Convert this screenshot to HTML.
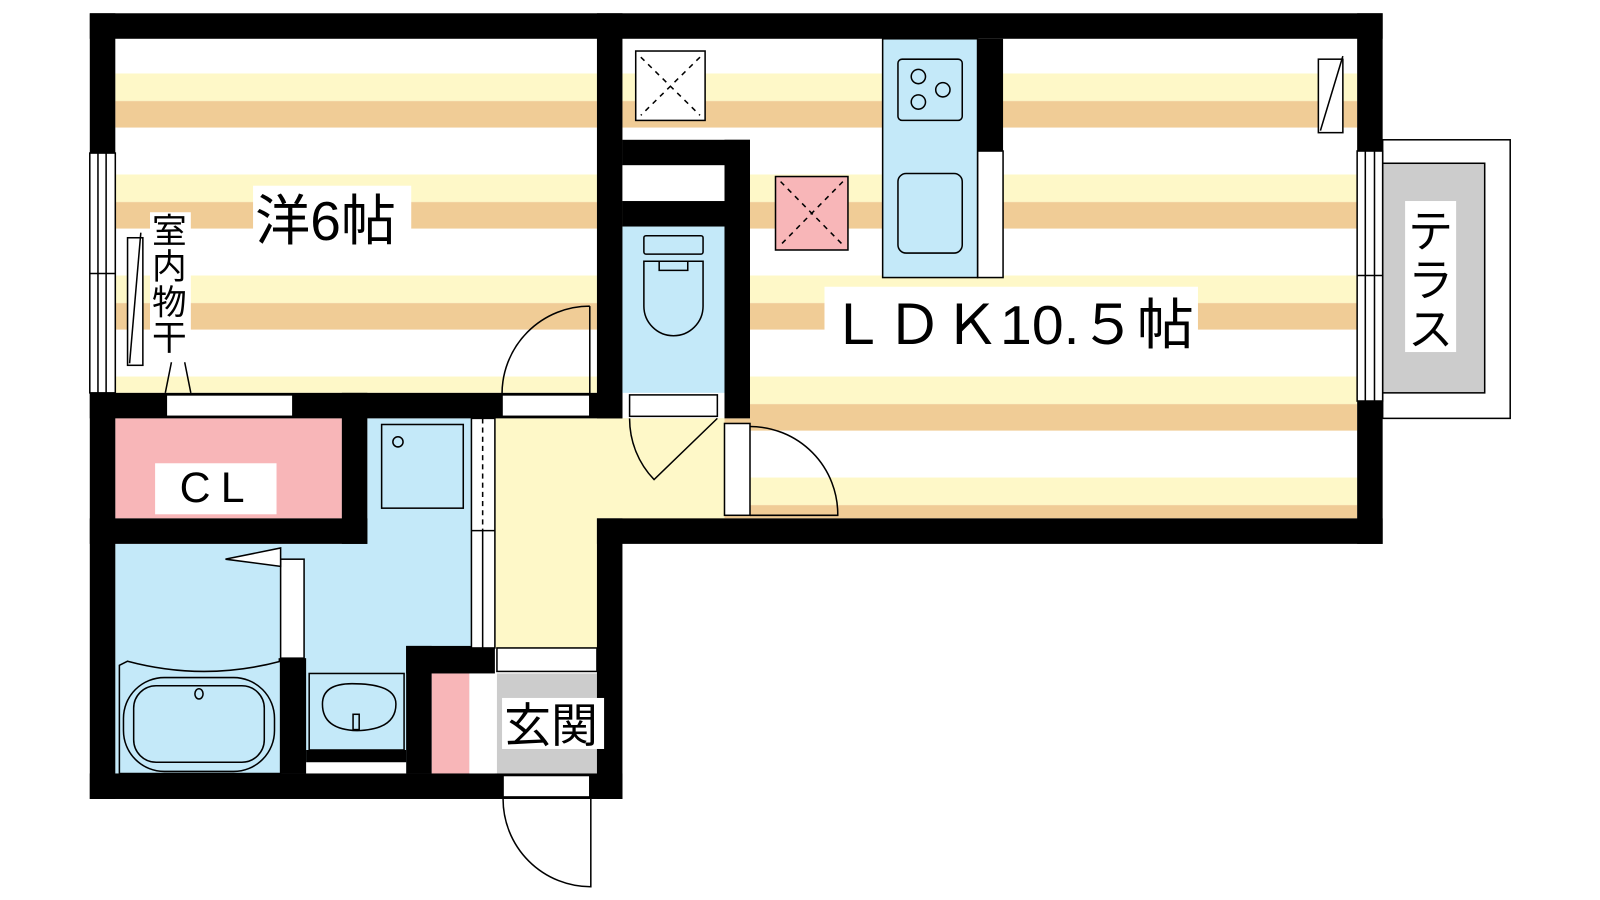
<!DOCTYPE html>
<html><head><meta charset="utf-8"><style>
html,body{margin:0;padding:0;background:#fff;width:1600px;height:900px;overflow:hidden}
svg{display:block}
text{font-family:"Liberation Sans","Noto Sans CJK JP",sans-serif;fill:#000}
</style></head><body>
<svg width="1600" height="900" viewBox="0 0 1568 882" preserveAspectRatio="none" xmlns="http://www.w3.org/2000/svg">
<defs>
<pattern id="fl" patternUnits="userSpaceOnUse" x="0" y="72" width="1600" height="99">
<rect width="1600" height="99" fill="#fff"/>
<rect y="0" width="1600" height="27" fill="#fef8c8"/>
<rect y="27" width="1600" height="26" fill="#f0cc96"/>
</pattern>
</defs>
<rect x="113" y="38" width="472" height="347" fill="url(#fl)"/>
<rect x="610" y="38" width="720" height="470" fill="url(#fl)"/>
<rect x="610" y="137" width="125" height="273" fill="#fff"/>
<rect x="610" y="222" width="100" height="163" fill="#c4e9f9"/>
<rect x="485" y="410" width="225" height="98" fill="#fef8c8"/>
<rect x="485" y="410" width="100" height="225" fill="#fef8c8"/>
<rect x="113" y="410" width="222" height="98" fill="#f8b6b8"/>
<rect x="360" y="410" width="102" height="240" fill="#c4e9f9"/>
<rect x="113" y="533" width="350" height="225" fill="#c4e9f9"/>
<rect x="487" y="660" width="98" height="98" fill="#cccccc"/>
<rect x="423" y="660" width="37" height="98" fill="#f8b6b8"/>
<rect x="1355" y="137" width="125" height="273" fill="#fff" stroke="#000" stroke-width="1.5"/>
<rect x="1355" y="160" width="100" height="225" fill="#cccccc" stroke="#000" stroke-width="1.5"/>
<g fill="#000">
<rect x="88" y="13" width="1267" height="25"/>
<rect x="88" y="13" width="25" height="770"/>
<rect x="1330" y="13" width="25" height="520"/>
<rect x="585" y="508" width="770" height="25"/>
<rect x="88" y="758" width="522" height="25"/>
<rect x="585" y="508" width="25" height="275"/>
<rect x="585" y="13" width="25" height="397"/>
<rect x="88" y="385" width="522" height="25"/>
<rect x="335" y="385" width="25" height="148"/>
<rect x="88" y="508" width="272" height="25"/>
<rect x="610" y="137" width="125" height="25"/>
<rect x="610" y="197" width="125" height="25"/>
<rect x="710" y="137" width="25" height="273"/>
<rect x="958" y="38" width="25" height="110"/>
<rect x="273" y="645" width="27" height="113"/>
<rect x="398" y="633" width="87" height="27"/>
<rect x="398" y="633" width="25" height="125"/>
<rect x="300" y="735" width="98" height="23"/>
</g>
<g fill="#fff" stroke="#000" stroke-width="1.5">
<rect x="163" y="387" width="124" height="21"/>
<rect x="492" y="387" width="86" height="21"/>
<rect x="617" y="387" width="86" height="21"/>
<rect x="610" y="162" width="100" height="35" stroke="none"/>
<rect x="710" y="415" width="25" height="90"/>
<rect x="958" y="148" width="25" height="124"/>
<rect x="487" y="635" width="98" height="23"/>
<rect x="493" y="760" width="85" height="21"/>
<rect x="300" y="747" width="98" height="11" stroke="none"/>
<rect x="460" y="660" width="25" height="98" stroke="none"/>
<rect x="275" y="548" width="23" height="97"/>
<rect x="462" y="410" width="23" height="225"/>
<rect x="88" y="150" width="25" height="235"/>
<rect x="1330" y="148" width="25" height="245"/>
</g>
<g stroke="#000" stroke-width="1.5" fill="none">
<line x1="96" y1="150" x2="96" y2="385"/><line x1="104" y1="150" x2="104" y2="385"/>
<line x1="88" y1="268" x2="113" y2="268"/>
<line x1="1338" y1="148" x2="1338" y2="393"/><line x1="1347" y1="148" x2="1347" y2="393"/>
<line x1="1330" y1="270" x2="1355" y2="270"/>
<line x1="473" y1="410" x2="473" y2="520" stroke-dasharray="5,4"/>
<line x1="462" y1="520" x2="485" y2="520"/>
<line x1="473" y1="520" x2="473" y2="635"/>
<path d="M578 300 L578 387 M578 300 A86 86 0 0 0 492 387"/>
<path d="M617 410 A86 86 0 0 0 641 470 L703 410"/>
<path d="M735 418 A86 86 0 0 1 821 505 L735 505"/>
<path d="M493 783 A86 86 0 0 0 579 869 L579 783"/>
<path d="M221 548 L275 537 L275 555 Z" fill="#fff"/>
<rect x="125" y="233" width="15" height="125" fill="#fff"/>
<line x1="127" y1="356" x2="138" y2="228"/>
<path d="M162 385 L168 355 M187 385 L181 355"/>
<rect x="623" y="50" width="68" height="68" fill="#fff"/>
<path d="M628 56 L686 113 M686 56 L628 113" stroke-dasharray="5,5"/>
<rect x="760" y="173" width="71" height="72" fill="#f8b6b8"/>
<path d="M765 178 L826 240 M826 178 L765 240" stroke-dasharray="5,5"/>
<rect x="1292" y="58" width="24" height="72" fill="#fff"/>
<line x1="1294" y1="128" x2="1316" y2="55"/>
<rect x="865" y="38" width="93" height="234" fill="#c4e9f9"/>
<rect x="880" y="58" width="63" height="60" rx="4"/>
<circle cx="900" cy="75" r="7"/><circle cx="924" cy="88" r="7"/><circle cx="900" cy="100" r="7"/>
<rect x="880" y="170" width="63" height="78" rx="8"/>
<rect x="631" y="231" width="58" height="18" rx="2"/>
<path d="M631 256 L689 256 L689 300 A29 29 0 0 1 631 300 Z"/>
<path d="M646 256 L646 265 L674 265 L674 256"/>
<rect x="374" y="416" width="80" height="82"/>
<circle cx="390" cy="433" r="5"/>
<path d="M117 652 L125 648 Q200 668 275 648 L275 758 L117 758 Z" fill="#c4e9f9"/>
<rect x="121" y="664" width="148" height="92" rx="40"/>
<rect x="131" y="672" width="128" height="75" rx="22"/>
<ellipse cx="195" cy="680" rx="4" ry="5"/>
<rect x="303" y="660" width="93" height="75"/>
<path d="M345 670 Q388 670 388 690 Q388 715 350 716 Q316 715 316 690 Q316 670 345 670 Z"/>
<rect x="346" y="700" width="6" height="15"/>
</g>
<rect x="248" y="182" width="155" height="60" fill="#fff"/>
<text x="250" y="235" font-size="54">洋6帖</text>
<rect x="147" y="208" width="40" height="143" fill="#fff"/>
<g font-size="34">
<text x="149" y="238">室</text><text x="149" y="273">内</text><text x="149" y="308">物</text><text x="149" y="343">干</text>
</g>
<rect x="808" y="281" width="366" height="62" fill="#fff"/>
<text x="812" y="337" font-size="54" textLength="358" lengthAdjust="spacingAndGlyphs">ＬＤＫ10.５帖</text>
<rect x="152" y="454" width="119" height="50" fill="#fff"/>
<text x="176" y="492" font-size="42" letter-spacing="10">CL</text>
<rect x="492" y="684" width="100" height="50" fill="#fff"/>
<text x="494" y="727" font-size="46">玄関</text>
<rect x="1377" y="197" width="50" height="148" fill="#fff"/>
<g font-size="44">
<text x="1380" y="242">テ</text><text x="1380" y="290">ラ</text><text x="1380" y="338">ス</text>
</g>
</svg>
</body></html>
